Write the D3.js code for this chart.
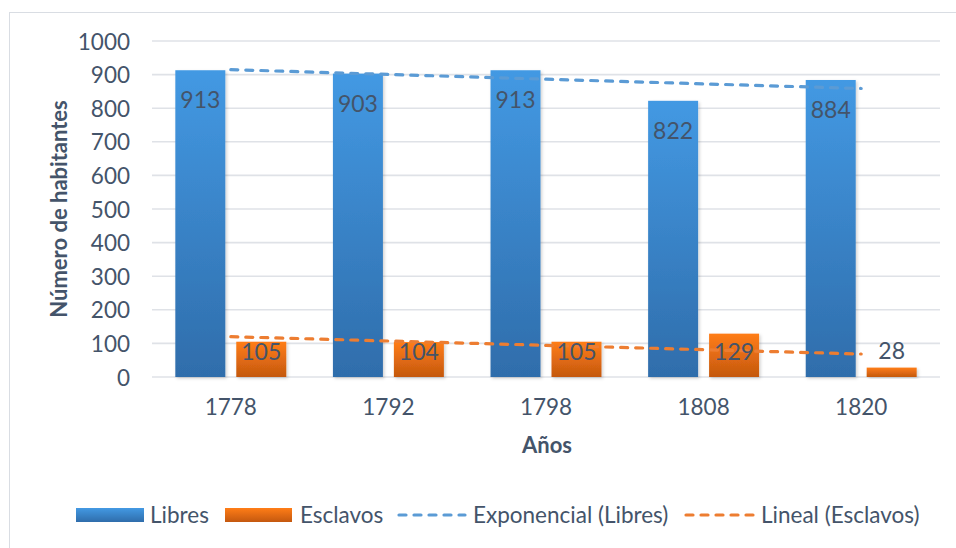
<!DOCTYPE html>
<html>
<head>
<meta charset="utf-8">
<script src="https://cdn.jsdelivr.net/npm/d3@7"></script>
<style>
  html, body { margin: 0; padding: 0; background: #fff; }
  svg { display: block; font-family: Lato, "Open Sans", sans-serif; }
</style>
</head>
<body>
<svg id="chart" width="956" height="548"></svg>
<script>
// Population by year
const years = ["1778", "1792", "1798", "1808", "1820"];
const libres = [913, 903, 913, 822, 884];
const esclavos = [105, 104, 105, 129, 28];
const seriesNames = ["Libres", "Esclavos"];
const yTicks = [0, 100, 200, 300, 400, 500, 600, 700, 800, 900, 1000];

const textColor = "#44546a";
const W = 956, H = 548;
const margin = { left: 152, right: 16, top: 41, bottom: 171 };

const svg = d3.select("#chart");
const defs = svg.append("defs");

function vGrad(id, top, bottom) {
  const g = defs.append("linearGradient").attr("id", id)
    .attr("x1", 0).attr("y1", 0).attr("x2", 0).attr("y2", 1);
  g.append("stop").attr("offset", "0%").attr("stop-color", top);
  g.append("stop").attr("offset", "100%").attr("stop-color", bottom);
}
vGrad("gBlue", "#4399e3", "#2f6dab");
vGrad("gOrange", "#ff7d17", "#c4580f");

const shadow = defs.append("filter").attr("id", "shadow")
  .attr("x", "-10%").attr("y", "-10%").attr("width", "130%").attr("height", "130%");
shadow.append("feDropShadow").attr("dx", 1.5).attr("dy", 1.5)
  .attr("stdDeviation", 1.5).attr("flood-color", "#000").attr("flood-opacity", 0.18);

// chart frame
svg.append("rect")
  .attr("x", 9.5).attr("y", 12.5).attr("width", W).attr("height", H)
  .attr("fill", "none").attr("stroke", "#d9dde3").attr("stroke-width", 1);

const x = d3.scaleBand().domain(years)
  .range([margin.left, W - margin.right]).paddingInner(0.296).paddingOuter(0.148);
const xs = d3.scaleBand().domain(seriesNames).range([0, x.bandwidth()]).paddingInner(0.18);
const y = d3.scaleLinear().domain([0, 1000]).range([H - margin.bottom, margin.top]);

// gridlines
svg.append("g").selectAll("line").data(yTicks).join("line")
  .attr("x1", margin.left).attr("x2", W - margin.right)
  .attr("y1", d => y(d)).attr("y2", d => y(d))
  .attr("stroke", "#dfe2e7").attr("stroke-width", 1.6);

// y axis labels
const yAxis = d3.axisLeft(y).tickValues(yTicks).tickFormat(d3.format("d"))
  .tickSize(0).tickPadding(0);
const yg = svg.append("g").attr("transform", `translate(${margin.left - 22},0)`).call(yAxis);
yg.select(".domain").remove();
yg.selectAll("text").attr("fill", textColor).attr("font-size", 22.5)
  .attr("font-family", "Lato, sans-serif").attr("dy", "0.36em");

// x axis labels
const xAxis = d3.axisBottom(x).tickSize(0).tickPadding(0);
const xg = svg.append("g").attr("transform", `translate(0,${y(0) + 22})`).call(xAxis);
xg.select(".domain").remove();
xg.selectAll("text").attr("fill", textColor).attr("font-size", 22.5)
  .attr("font-family", "Lato, sans-serif").attr("dy", "0.71em");

// axis titles
svg.append("text")
  .attr("transform", `translate(67,${(y(0) + y(1000)) / 2}) rotate(-90)`)
  .attr("text-anchor", "middle").attr("fill", textColor)
  .attr("font-size", 22).attr("font-weight", "bold")
  .text("Número de habitantes");
svg.append("text")
  .attr("x", (margin.left + W - margin.right) / 2 + 1).attr("y", 453)
  .attr("text-anchor", "middle").attr("fill", textColor)
  .attr("font-size", 22).attr("font-weight", "bold")
  .text("Años");

// bars
const rows = years.map((yr, i) => ({ yr, vals: [libres[i], esclavos[i]] }));
const fills = ["url(#gBlue)", "url(#gOrange)"];
const barG = svg.append("g");
rows.forEach(r => {
  r.vals.forEach((v, j) => {
    barG.append("rect")
      .attr("x", x(r.yr) + xs(seriesNames[j]))
      .attr("y", y(v))
      .attr("width", xs.bandwidth())
      .attr("height", y(0) - y(v))
      .attr("fill", fills[j])
      .attr("filter", "url(#shadow)");
  });
});

// trendlines: exponential fit for Libres, linear fit for Esclavos
const xi = years.map((_, i) => i + 1);
function linFit(xv, yv) {
  const mx = d3.mean(xv), my = d3.mean(yv);
  const b = d3.sum(xv, (d, i) => (d - mx) * (yv[i] - my)) / d3.sum(xv, d => (d - mx) ** 2);
  return { a: my - b * mx, b };
}
const lnFit = linFit(xi, libres.map(Math.log));
const expVals = xi.map(t => Math.exp(lnFit.a + lnFit.b * t));
const lf = linFit(xi, esclavos);
const linVals = xi.map(t => lf.a + lf.b * t);

const cx = yr => x(yr) + x.bandwidth() / 2;
const line = d3.line().x((d, i) => cx(years[i])).y(d => y(d));
svg.append("path").datum(expVals).attr("d", line)
  .attr("fill", "none").attr("stroke", "#5b9bd5").attr("stroke-width", 3.2)
  .attr("stroke-dasharray", "7,8").attr("stroke-linecap", "round");
svg.append("path").datum(linVals).attr("d", line)
  .attr("fill", "none").attr("stroke", "#ed7d31").attr("stroke-width", 3.2)
  .attr("stroke-dasharray", "7,8").attr("stroke-linecap", "round");

// value labels
const labG = svg.append("g").attr("fill", textColor).attr("font-size", 23)
  .attr("text-anchor", "middle");
rows.forEach(r => {
  r.vals.forEach((v, j) => {
    const top = y(v), bottom = y(0), h = bottom - top;
    let base;
    if (h < 25) base = top - 9;
    else base = Math.min(top + 38, bottom - 17);
    labG.append("text")
      .attr("x", x(r.yr) + xs(seriesNames[j]) + xs.bandwidth() / 2)
      .attr("y", base)
      .text(v);
  });
});

// legend
const legY = 515;
const leg = svg.append("g").attr("font-size", 22.5).attr("fill", textColor);
const items = [
  { type: "rect", fill: "url(#gBlue)", label: "Libres", x0: 76, w: 68, tx: 150 },
  { type: "rect", fill: "url(#gOrange)", label: "Esclavos", x0: 225, w: 67, tx: 300 },
  { type: "line", stroke: "#5b9bd5", label: "Exponencial (Libres)", x0: 399, w: 66, tx: 473 },
  { type: "line", stroke: "#ed7d31", label: "Lineal (Esclavos)", x0: 686, w: 67, tx: 761 }
];
items.forEach(it => {
  if (it.type === "rect") {
    leg.append("rect").attr("x", it.x0).attr("y", legY - 7).attr("width", it.w).attr("height", 14)
      .attr("fill", it.fill);
  } else {
    leg.append("line").attr("x1", it.x0).attr("x2", it.x0 + it.w)
      .attr("y1", legY).attr("y2", legY)
      .attr("stroke", it.stroke).attr("stroke-width", 3.2)
      .attr("stroke-dasharray", "7,8").attr("stroke-linecap", "round");
  }
  leg.append("text").attr("x", it.tx).attr("y", legY).attr("dy", "0.35em").text(it.label);
});
</script>
</body>
</html>
